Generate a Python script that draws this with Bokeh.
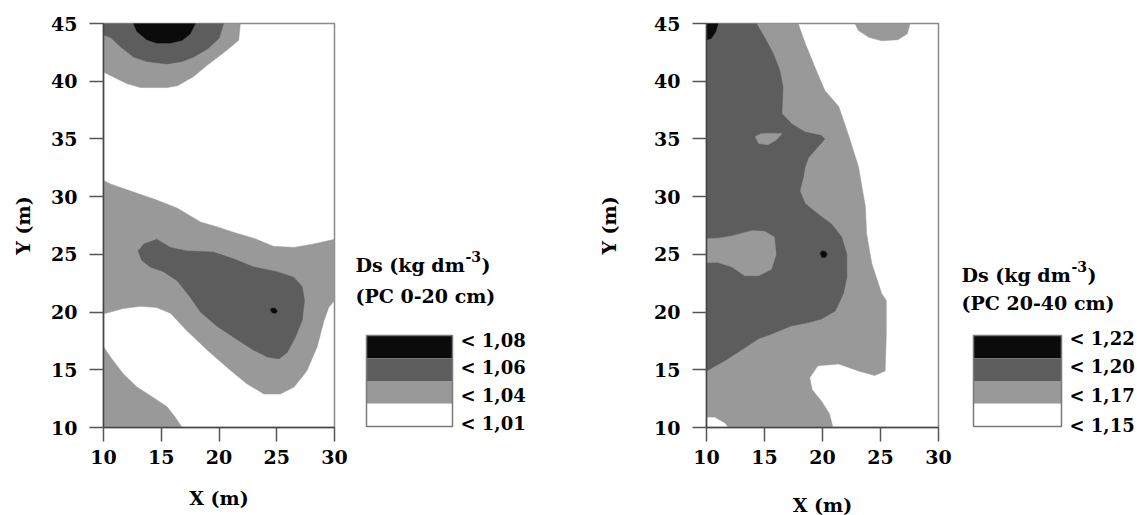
from bokeh.plotting import figure
from bokeh.layouts import row, column
from bokeh.models import Range1d, FixedTicker, ColumnDataSource, Label
from bokeh.embed import file_html
from bokeh.resources import INLINE

# ---------------- data ----------------
x_ticks = [10, 15, 20, 25, 30]
y_ticks = [10, 15, 20, 25, 30, 35, 40, 45]
x_title = "X (m)"
y_title = "Y (m)"

# class colours: index 0 = lowest class (white) ... 3 = highest (black)
class_colors = ["#ffffff", "#999999", "#5d5d5d", "#0b0b0b"]

# ---- Chart A: Ds, PC 0-20 cm ----
a_title1 = "Ds (kg dm"
a_title_sup = "-3"
a_title2 = "(PC 0-20 cm)"
a_levels = ["< 1,08", "< 1,06", "< 1,04", "< 1,01"]   # top to bottom of legend

a_gray_top_x = [10, 21.85, 21.7, 20.7, 19.0, 17.8, 16.4, 15.5, 13.2, 12.0, 10.6, 10]
a_gray_top_y = [45, 45, 43.55, 42.7, 41.4, 40.4, 39.6, 39.45, 39.45, 39.8, 40.5, 40.8]
a_gray_mid_x = [10, 10.6, 12.6, 14.6, 16.4, 18.4, 19.8, 21.3, 23.0, 24.7, 26.5, 28.2, 30,
                30, 29.5, 29.1, 28.5, 27.6, 26.5, 25.3, 23.9, 22.4, 20.7, 19.0, 17.2, 15.8,
                14.6, 13.2, 11.7, 10.6, 10]
a_gray_mid_y = [31.4, 31.1, 30.4, 29.7, 29.0, 27.8, 27.4, 26.9, 26.4, 25.7, 25.6, 25.9, 26.3,
                21.0, 20.4, 19.3, 17.0, 14.9, 13.5, 12.9, 12.9, 13.8, 15.2, 16.7, 18.4, 19.9,
                20.4, 20.5, 20.3, 20.0, 19.85]
a_gray_low_x = [10, 10.6, 11.7, 12.9, 14.3, 15.5, 16.2, 16.8, 10]
a_gray_low_y = [17.0, 16.1, 14.65, 13.5, 12.6, 11.8, 10.9, 10, 10]
a_dark_top_x = [10, 20.4, 20.0, 19.0, 17.8, 16.8, 15.5, 13.75, 12.6, 11.45, 10.6, 10]
a_dark_top_y = [45, 45, 43.7, 42.8, 42.1, 41.7, 41.5, 41.7, 42.1, 43.0, 43.8, 44.0]
a_dark_mid_x = [13.0, 13.5, 14.6, 15.8, 17.2, 19.5, 21.3, 23.0, 25.0, 26.5, 27.2, 27.4, 27.2,
                26.6, 25.9, 25.2, 24.2, 23.0, 21.3, 19.8, 18.4, 17.5, 16.4, 15.2, 14.05, 13.3]
a_dark_mid_y = [25.3, 25.9, 26.3, 25.6, 25.3, 25.2, 24.6, 23.9, 23.5, 23.0, 22.2, 21.0, 19.3,
                17.8, 16.5, 15.95, 16.1, 16.7, 17.8, 18.8, 20.0, 21.3, 22.7, 23.5, 23.9, 24.5]
a_black_top_x = [12.6, 17.95, 17.5, 16.8, 15.8, 14.6, 13.75, 12.9]
a_black_top_y = [45, 45, 44.1, 43.55, 43.3, 43.3, 43.6, 44.3]
a_black_dot_x = [24.45, 24.6, 24.9, 25.05, 24.9, 24.6]
a_black_dot_y = [20.2, 20.35, 20.3, 20.05, 19.9, 19.95]

# ---- Chart B: Ds, PC 20-40 cm ----
b_title1 = "Ds (kg dm"
b_title_sup = "-3"
b_title2 = "(PC 20-40 cm)"
b_levels = ["< 1,22", "< 1,20", "< 1,17", "< 1,15"]

b_gray_main_x = [10, 10.7, 11.6, 11.9, 20.9, 20.6, 19.9, 19.1, 18.9, 19.6, 21.4, 23.1, 24.5,
                 25.4, 25.5, 25.5, 25.1, 24.25, 23.8, 23.7, 23.1, 22.2, 21.4, 20.2, 19.35,
                 18.5, 17.9, 10]
b_gray_main_y = [10.9, 10.9, 10.4, 10, 10, 11.2, 12.3, 13.3, 14.3, 15.35, 15.5, 14.9, 14.5,
                 14.9, 18.1, 21.0, 21.6, 24.2, 26.8, 29.1, 32.6, 35.45, 37.8, 39.2, 41.2,
                 43.3, 45, 45]
b_gray_tr_x = [22.8, 23.1, 24.0, 25.1, 26.5, 27.3, 27.55]
b_gray_tr_y = [45, 44.4, 43.8, 43.5, 43.6, 44.1, 45]
b_dark_x = [10, 14.3, 15.0, 15.75, 16.3, 16.6, 16.5, 17.35, 18.5, 19.9, 20.2, 19.6, 18.8,
            18.5, 18.35, 18.05, 18.5, 19.6, 20.8, 21.65, 22.1, 22.1, 21.8, 21.1, 19.9,
            18.8, 17.3, 15.6, 14.5, 13.3, 11.6, 10]
b_dark_y = [45, 45, 43.8, 42.4, 41.0, 39.5, 37.2, 36.3, 35.6, 35.3, 35.0, 34.3, 33.4,
            32.6, 31.7, 30.5, 29.4, 28.5, 27.6, 26.5, 25.0, 23.0, 21.6, 20.1, 19.4,
            19.1, 18.8, 18.1, 17.7, 16.9, 15.8, 14.9]
b_gray_left_x = [10, 11.0, 12.2, 13.3, 14.5, 15.6, 16.0, 15.85, 15.0, 13.9, 12.2, 11.0, 10]
b_gray_left_y = [24.3, 24.3, 23.9, 23.15, 23.15, 23.7, 25.0, 26.5, 27.0, 27.05, 26.6, 26.4, 26.35]
b_gray_small_x = [14.2, 14.5, 15.3, 16.0, 16.5, 15.6, 14.7]
b_gray_small_y = [35.2, 34.6, 34.5, 34.9, 35.45, 35.5, 35.45]
b_black_corner_x = [10, 11.0, 10.8, 10.4, 10]
b_black_corner_y = [45, 45, 44.3, 43.7, 43.6]
b_black_dot_x = [19.8, 19.95, 20.25, 20.4, 20.25, 19.95]
b_black_dot_y = [25.1, 25.3, 25.25, 25.0, 24.75, 24.75]

# draw order (class index, xs, ys)
a_regions = [
    (1, a_gray_top_x, a_gray_top_y),
    (1, a_gray_mid_x, a_gray_mid_y),
    (1, a_gray_low_x, a_gray_low_y),
    (2, a_dark_top_x, a_dark_top_y),
    (2, a_dark_mid_x, a_dark_mid_y),
    (3, a_black_top_x, a_black_top_y),
    (3, a_black_dot_x, a_black_dot_y),
]
b_regions = [
    (1, b_gray_main_x, b_gray_main_y),
    (1, b_gray_tr_x, b_gray_tr_y),
    (2, b_dark_x, b_dark_y),
    (1, b_gray_left_x, b_gray_left_y),
    (1, b_gray_small_x, b_gray_small_y),
    (3, b_black_corner_x, b_black_corner_y),
    (3, b_black_dot_x, b_black_dot_y),
]

FONT = "DejaVu Serif"


def map_figure(regions, frame_w, border_left, ylab_standoff, xlab_standoff):
    p = figure(frame_width=frame_w, frame_height=404,
               min_border_left=border_left, min_border_right=16,
               min_border_top=23, min_border_bottom=88,
               x_range=Range1d(10, 30), y_range=Range1d(10, 45),
               toolbar_location=None, output_backend="svg")
    src = ColumnDataSource(dict(
        xs=[r[1] for r in regions], ys=[r[2] for r in regions],
        color=[class_colors[r[0]] for r in regions]))
    p.patches("xs", "ys", fill_color="color", line_color="color", line_width=0.5,
              source=src)
    p.xgrid.visible = False
    p.ygrid.visible = False
    p.outline_line_color = "#8a8a8a"
    p.outline_line_width = 1.5
    p.background_fill_color = "white"
    p.border_fill_color = "white"
    for ax, ticks in ((p.xaxis[0], x_ticks), (p.yaxis[0], y_ticks)):
        ax.ticker = FixedTicker(ticks=ticks)
        ax.minor_tick_line_color = None
        ax.major_tick_in = 0
        ax.major_tick_out = 14
        ax.major_tick_line_color = "#555555"
        ax.major_tick_line_width = 1.5
        ax.axis_line_color = "#444444"
        ax.axis_line_width = 1.5
        ax.major_label_text_font = FONT
        ax.major_label_text_font_style = "bold"
        ax.major_label_text_font_size = "19px"
        ax.major_label_text_color = "black"
        ax.axis_label_text_font = FONT
        ax.axis_label_text_font_style = "bold"
        ax.axis_label_text_font_size = "19px"
        ax.axis_label_text_color = "black"
    p.xaxis.axis_label = x_title
    p.yaxis.axis_label = y_title
    p.xaxis.major_label_standoff = 8
    p.yaxis.major_label_standoff = 12
    p.yaxis.axis_label_standoff = ylab_standoff
    p.xaxis.axis_label_standoff = xlab_standoff
    return p


def add_text(q, x, y, txt, size, baseline="alphabetic"):
    q.add_layout(Label(x=x, y=y, text=txt, text_font=FONT, text_font_style="bold",
                       text_font_size=size, text_baseline=baseline,
                       text_color="black"))


def legend_figure(x0, x1, title1, sup, title2, levels, tx, t1y, supdx, supy, t2y,
                  bx0, bx1, by0, by1, lx, lys):
    # full-height frame in page pixel rows (0 at top)
    q = figure(width=x1 - x0, height=515, x_range=Range1d(x0, x1),
               y_range=Range1d(515, 0), x_axis_type=None, y_axis_type=None,
               min_border=0, toolbar_location=None, output_backend="svg")
    q.xgrid.visible = False
    q.ygrid.visible = False
    q.outline_line_color = None
    add_text(q, tx, t1y, title1, "19px")
    add_text(q, tx + supdx, supy, sup, "14px")
    add_text(q, tx + supdx + 16, t1y, ")", "19px")
    add_text(q, tx, t2y, title2, "19px")
    n = len(levels)
    h = (by1 - by0) / n
    tops = [by0 + i * h for i in range(n)]
    bots = [by0 + (i + 1) * h for i in range(n)]
    cols = [class_colors[n - 1 - i] for i in range(n)]
    q.quad(left=[bx0] * n, right=[bx1] * n, top=tops, bottom=bots,
           fill_color=cols, line_color=None)
    q.quad(left=[bx0], right=[bx1], top=[by0], bottom=[by1], fill_color=None,
           line_color="#7a7a7a", line_width=1.5)
    for lab, ly in zip(levels, lys):
        add_text(q, lx, ly, lab, "18px", "middle")
    return q


pa = map_figure(a_regions, 231, 103, 14, 20)
la = legend_figure(350, 595, a_title1, a_title_sup, a_title2, a_levels,
                   355, 264, 110, 256, 295, 366, 452, 335, 426, 460,
                   [340, 367, 395, 423])
pb = map_figure(b_regions, 232, 110, 31, 27)
lb = legend_figure(953, 1137, b_title1, b_title_sup, b_title2, b_levels,
                   960, 274, 110, 266, 302, 972, 1060, 335, 426, 1068,
                   [338, 366, 395, 425])

layout = row(pa, column(la), pb, column(lb), spacing=0)
open("out.html", "w").write(file_html(layout, INLINE))
